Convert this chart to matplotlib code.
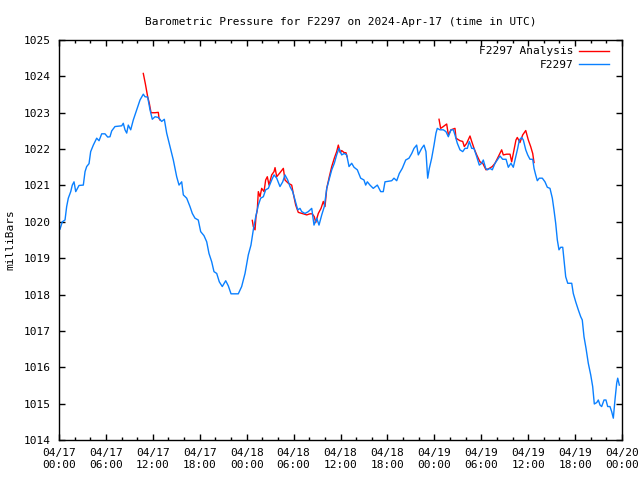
import numpy as np
import pandas as pd
import matplotlib
matplotlib.use("Agg")
import matplotlib.pyplot as plt
import matplotlib.dates as mdates

plt.rcParams['font.family'] = ['DejaVu Sans Mono']

start = pd.Timestamp("2024-04-17 00:00")

# observed station pressure (hours since 04/17 00:00 UTC, mbar)
obs_hours = [0.13, 0.42, 0.77, 0.98, 1.19, 1.50, 1.70, 1.92, 2.14, 2.56, 3.11, 3.33, 3.54, 3.84,
             4.05, 4.39, 4.82, 5.12, 5.46, 5.88, 6.23, 6.52, 6.74, 7.16, 8.02, 8.22, 8.44, 8.66,
             8.86, 9.17, 9.50, 9.94, 10.36, 10.78, 11.00, 11.34, 11.64, 11.93, 12.28, 12.70,
             13.13, 13.47, 13.77, 14.20, 14.62, 15.05, 15.35, 15.69, 15.90, 16.33, 16.75, 17.05,
             17.39, 17.81, 18.12, 18.54, 18.89, 19.18, 19.53, 19.82, 20.17, 20.50, 20.88, 21.32,
             21.65, 22.00, 22.93, 23.36, 23.79, 24.21, 24.55, 24.85, 25.16, 25.49, 25.79, 26.13,
             26.43, 26.77, 27.20, 27.50, 27.84, 28.26, 28.61, 28.90, 29.25, 29.54, 29.89, 30.18,
             30.53, 30.82, 31.04, 31.46, 31.88, 32.32, 32.61, 32.96, 33.25, 33.60, 33.93, 34.24,
             34.53, 34.88, 35.21, 35.51, 35.81, 36.15, 36.49, 36.79, 37.09, 37.43, 37.73, 38.15,
             38.58, 39.00, 39.22, 39.43, 39.77, 40.19, 40.71, 41.14, 41.47, 41.69, 42.55, 42.84,
             43.19, 43.52, 43.90, 44.34, 44.76, 45.11, 45.40, 45.74, 45.95, 46.38, 46.68, 46.93,
             47.15, 47.36, 47.66, 47.96, 48.21, 48.38, 48.72, 49.15, 49.49, 49.79, 50.13, 50.43,
             50.64, 50.94, 51.28, 51.63, 51.92, 52.22, 52.47, 52.78, 53.07, 53.42, 53.75, 54.06,
             54.26, 54.57, 54.78, 55.12, 55.41, 55.76, 56.05, 56.40, 56.74, 57.17, 57.46, 57.80,
             58.10, 58.41, 58.66, 58.87, 59.17, 59.38, 59.69, 59.94, 60.23, 60.58, 60.75, 60.96,
             61.17, 61.42, 61.81, 62.15, 62.45, 62.79, 63.09, 63.30, 63.52, 63.73, 63.94, 64.16,
             64.42, 64.58, 64.80, 65.06, 65.57, 65.77, 66.08, 66.41, 66.72, 66.92, 67.14, 67.40,
             67.69, 68.00, 68.25, 68.46, 68.77, 68.97, 69.19, 69.40, 69.70, 69.95, 70.17, 70.46,
             70.68, 70.89, 71.10, 71.32, 71.45, 71.66]
obs_mb = [1019.80, 1020.00, 1020.05, 1020.42, 1020.65, 1020.83, 1021.01, 1021.10, 1020.83, 1021.00,
          1021.01, 1021.38, 1021.52, 1021.60, 1021.93, 1022.11, 1022.30, 1022.23, 1022.42, 1022.42,
          1022.33, 1022.34, 1022.50, 1022.62, 1022.64, 1022.71, 1022.53, 1022.44, 1022.66, 1022.53,
          1022.80, 1023.08, 1023.35, 1023.51, 1023.44, 1023.43, 1023.08, 1022.82, 1022.89, 1022.87,
          1022.76, 1022.82, 1022.44, 1022.07, 1021.70, 1021.24, 1021.01, 1021.10, 1020.74, 1020.65,
          1020.42, 1020.23, 1020.10, 1020.05, 1019.73, 1019.62, 1019.45, 1019.13, 1018.90, 1018.63,
          1018.58, 1018.35, 1018.22, 1018.38, 1018.24, 1018.02, 1018.02, 1018.22, 1018.58, 1019.09,
          1019.36, 1019.78, 1020.14, 1020.46, 1020.65, 1020.69, 1020.88, 1020.92, 1021.15, 1021.29,
          1021.20, 1020.97, 1021.10, 1021.29, 1021.15, 1020.97, 1020.83, 1020.60, 1020.33, 1020.37,
          1020.28, 1020.23, 1020.28, 1020.37, 1019.91, 1020.10, 1019.91, 1020.19, 1020.42, 1020.92,
          1021.15, 1021.43, 1021.61, 1021.84, 1022.02, 1021.84, 1021.88, 1021.84, 1021.52, 1021.61,
          1021.50, 1021.43, 1021.20, 1021.15, 1021.01, 1021.10, 1021.01, 1020.92, 1021.01, 1020.83,
          1020.83, 1021.10, 1021.13, 1021.20, 1021.13, 1021.33, 1021.47, 1021.70, 1021.75, 1021.88,
          1022.02, 1022.11, 1021.84, 1022.02, 1022.11, 1021.93, 1021.20, 1021.47, 1021.75, 1022.11,
          1022.44, 1022.57, 1022.53, 1022.53, 1022.48, 1022.34, 1022.53, 1022.53, 1022.39, 1022.16,
          1021.98, 1021.93, 1022.02, 1022.02, 1022.21, 1022.02, 1022.02, 1021.79, 1021.56, 1021.61,
          1021.70, 1021.47, 1021.43, 1021.47, 1021.43, 1021.61, 1021.70, 1021.81, 1021.72, 1021.72,
          1021.50, 1021.61, 1021.50, 1021.79, 1022.02, 1022.25, 1022.32, 1022.25, 1021.98, 1021.84,
          1021.72, 1021.72, 1021.47, 1021.29, 1021.13, 1021.20, 1021.20, 1021.10, 1020.95, 1020.92,
          1020.65, 1020.33, 1019.96, 1019.50, 1019.23, 1019.30, 1019.30, 1018.95, 1018.49, 1018.31,
          1018.31, 1018.03, 1017.80, 1017.58, 1017.39, 1017.30, 1016.84, 1016.52, 1016.11, 1015.79,
          1015.47, 1014.99, 1015.03, 1015.10, 1014.96, 1014.92, 1015.10, 1015.10, 1014.92, 1014.92,
          1014.78, 1014.60, 1015.10, 1015.56, 1015.70, 1015.51]

# analysis pressure, three visible stretches (NaN marks a break)
ana_hours = [10.78, 11.04, 11.34, 11.55, 11.77, 12.28, 12.70, 12.79, 12.92, 13.00,
             24.72, 24.85, 25.07, 25.19, 25.36, 25.49, 25.71, 25.92, 26.22, 26.43, 26.64, 26.86,
             27.20, 27.50, 27.63, 27.84, 28.26, 28.69, 28.90, 29.33, 29.76, 29.96, 30.27, 30.60,
             31.24, 31.68, 32.10, 32.39, 32.65, 32.83, 33.16, 33.51, 33.80, 34.02, 34.24, 34.57,
             34.88, 35.21, 35.51, 35.72, 35.97, 36.15, 36.49, 36.70, 36.83, 37.00,
             48.60, 48.81, 49.15, 49.58, 49.79, 50.13, 50.64, 50.77, 51.28, 51.63, 51.83, 52.14,
             52.56, 52.78, 53.11, 53.42, 53.84, 54.19, 54.61, 55.03, 55.41, 55.76, 56.18, 56.61,
             56.82, 57.25, 57.68, 57.89, 58.10, 58.44, 58.61, 58.95, 59.30, 59.69, 60.02, 60.32,
             60.58, 60.75]
ana_mb = [1024.08, 1023.80, 1023.44, 1023.26, 1023.00, 1023.00, 1023.01, 1022.85, 1022.80, np.nan,
          1020.04, 1019.87, 1019.78, 1020.14, 1020.33, 1020.83, 1020.69, 1020.92, 1020.83, 1021.15,
          1021.24, 1021.01, 1021.29, 1021.38, 1021.49, 1021.24, 1021.35, 1021.47, 1021.15, 1021.06,
          1021.01, 1020.78, 1020.46, 1020.26, 1020.22, 1020.19, 1020.22, 1020.22, 1020.14, 1019.98,
          1020.23, 1020.37, 1020.56, 1020.42, 1020.92, 1021.24, 1021.52, 1021.75, 1021.93, 1022.11,
          1021.90, 1021.96, 1021.90, 1021.90, 1021.79, np.nan,
          1022.82, 1022.57, 1022.62, 1022.69, 1022.39, 1022.53, 1022.57, 1022.30, 1022.23, 1022.21,
          1022.07, 1022.16, 1022.36, 1022.21, 1022.00, 1021.84, 1021.65, 1021.61, 1021.43, 1021.47,
          1021.52, 1021.61, 1021.79, 1021.98, 1021.84, 1021.86, 1021.86, 1021.65, 1021.88, 1022.25,
          1022.32, 1022.18, 1022.39, 1022.51, 1022.25, 1022.07, 1021.88, 1021.63]

obs_t = start + pd.to_timedelta(obs_hours, unit="h")
ana_t = start + pd.to_timedelta(ana_hours, unit="h")

fig = plt.figure(figsize=(6.4, 4.8), dpi=100)
ax = fig.add_axes([59 / 640, 40 / 480, 563 / 640, 400 / 480])

ax.plot(ana_t, ana_mb, color="#ff0000", lw=1.0, label="F2297 Analysis")
ax.plot(obs_t, obs_mb, color="#0a80ff", lw=1.0, label="F2297")

ax.set_xlim(start, start + pd.Timedelta(hours=72))
ax.set_ylim(1014, 1025)
ax.set_yticks(np.arange(1014, 1026, 1))

ax.xaxis.set_major_locator(mdates.HourLocator(byhour=[0, 6, 12, 18]))
ax.xaxis.set_minor_locator(mdates.HourLocator(interval=2))
ax.xaxis.set_major_formatter(mdates.DateFormatter("%m/%d\n%H:%M"))

ax.tick_params(which="both", direction="in", top=True, right=True, labelsize=8, width=1)
ax.tick_params(which="major", length=4.5, pad=6)
ax.tick_params(which="minor", length=2.5)
for s in ax.spines.values():
    s.set_linewidth(1)

ax.set_title("Barometric Pressure for F2297 on 2024-Apr-17 (time in UTC)", fontsize=8, pad=11)
ax.set_ylabel("milliBars", fontsize=8, labelpad=6)

ax.legend(loc="upper right", bbox_to_anchor=(0.985, 0.995), frameon=False, markerfirst=False,
          fontsize=8, handlelength=2.7, borderaxespad=0, labelspacing=0.3, handletextpad=0.5)

fig.savefig("out.png", dpi=100)
